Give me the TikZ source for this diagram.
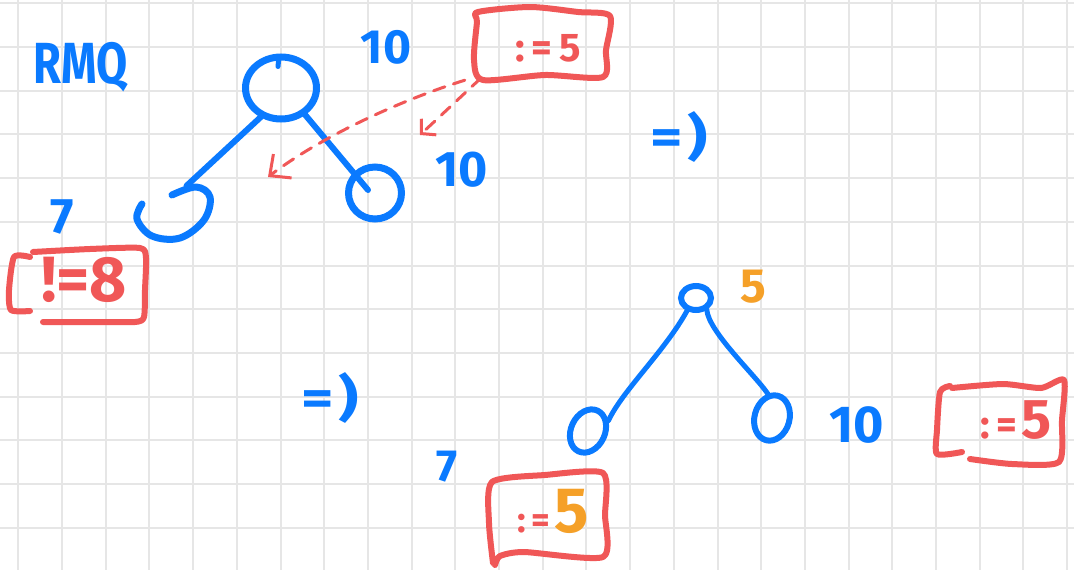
\documentclass[tikz,border=0pt]{standalone}
\usepackage{fontspec}
\setmainfont{Fira Sans}
\usetikzlibrary{arrows.meta,shapes.geometric}
\definecolor{inkblue}{HTML}{0A7AFF}
\definecolor{inkred}{HTML}{F05757}
\definecolor{inkorange}{HTML}{F5A028}
\definecolor{gridgray}{HTML}{E6E6E6}
\newcommand{\fs}[1]{\bfseries\fontsize{#1}{#1}\selectfont}

\begin{document}
\begin{tikzpicture}[x=1pt,y=-1pt,
  gridline/.style={gridgray,line width=2pt},
  tree/.style={inkblue,line width=6pt,line cap=round,line join=round},
  thin tree/.style={inkblue,line width=5pt,line cap=round,line join=round},
  vertex/.style={ellipse,draw=inkblue,line width=7pt,inner sep=0pt},
  small vertex/.style={ellipse,draw=inkblue,line width=6pt,inner sep=0pt},
  anchorbox/.style={draw=none,inner sep=0pt,rectangle},
  lbl/.style={inkblue,inner sep=0pt},
  tag/.style={inkred,line width=6pt,line cap=round,line join=round},
  hint/.style={inkred,line width=3pt,dash pattern=on 12pt off 9pt,line cap=round},
  implies/.style={inkblue,inner sep=0pt,font=\fs{50},xscale=1.25},
]
\useasboundingbox[fill=white] (0,0) rectangle (1074,570);

% squared paper
\foreach \i in {0,...,24} \draw[gridline] ({18.3+43.7*\i},0) -- ++(0,570);
\foreach \j in {0,...,12} \draw[gridline] (0,{3.3+43.7*\j}) -- ++(1074,0);

% title
\node[lbl,font=\fs{58},xscale=0.78] (title) at (81,67) {RMQ};

% ---------- first tree ----------
\node[vertex,minimum width=71pt,minimum height=62pt] (r1) at (281,88) {};
\draw[tree,line width=5pt] (r1.north) ++(-2,3) -- ++(-1,10);
\node[anchorbox,minimum width=70pt,minimum height=52pt] (l1) at (177,212) {};
\draw[tree,line width=7pt] plot[smooth,tension=0.6] coordinates
  {(142,204) (137,219) (152,236) (180,238) (204,220) (210,197) (196,187) (172,195)};
\node[vertex,minimum width=53pt,minimum height=52pt] (c1) at (375,193) {};

\draw[tree] (r1.235) -- (l1.70);
\draw[tree] (r1.312) -- ([xshift=-7pt,yshift=3pt]c1.center);

\node[lbl,font=\fs{48}] (v1) at (386,47) {10};
\node[lbl,font=\fs{50}] (v2) at (462,170) {10};
\node[lbl,font=\fs{50}] (v3) at (62,217) {7};

% tag under the left leaf
\node[anchorbox,minimum width=138pt,minimum height=78pt] (b1) at (78,285) {};
\draw[tag] plot[smooth,tension=0.4] coordinates {(30,257) (14,257) (9,290) (11,310) (30,311)};
\draw[tag] plot[smooth,tension=0.4] coordinates {(33,252) (90,249) (140,248) (146,258) (145,290) (144,317) (135,322) (90,322) (43,322)};
\node[inkred,inner sep=0pt,font=\fs{64}] (t1) at (84,280) {!=8};

% pending update tag at the top
\node[anchorbox,minimum width=136pt,minimum height=70pt] (b2) at (541,45) {};
\draw[tag] plot[smooth cycle,tension=0.45] coordinates
  {(478,12) (530,7) (578,12) (610,16) (606,50) (603,77) (545,75) (483,80) (474,60) (477,22)};
\node[inkred,inner sep=0pt,font=\fs{40}] (t2) at (548,48) {:\hspace{7pt}=\hspace{7pt}5};

% pushing the update down
\coordinate (h1) at (268,177);
\coordinate (h2) at (420,135);
\draw[hint,-{Straight Barb[length=16pt,width=30pt,line width=3pt]}]
  ([xshift=-8pt]b2.south west) .. controls +(-70,22) and +(50,-38) .. (h1);
\draw[hint,-{Straight Barb[length=10pt,width=22pt,line width=3pt]}]
  ([xshift=8pt,yshift=2pt]b2.south west) -- (h2);

% implies
\node[implies] (imp1) at (679,137) {=\hspace{4pt})};

% ---------- second tree ----------
\node[small vertex,minimum width=30pt,minimum height=24pt] (r2) at (696,298) {};
\node[small vertex,minimum width=34pt,minimum height=45pt,rotate=-25] (l2) at (588,431) {};
\node[small vertex,minimum width=35pt,minimum height=46pt,rotate=-15] (c2) at (772,418) {};

\draw[thin tree] (r2.235) .. controls +(-22,40) and +(14,-30) .. (l2.north east);
\draw[thin tree] (r2.312) .. controls +(2,22) and +(-12,-18) .. (c2.115);

\node[inkorange,inner sep=0pt,font=\fs{48}] (v4) at (753,287) {5};
\node[lbl,font=\fs{52}] (v5) at (857,425) {10};
\node[lbl,font=\fs{45}] (v6) at (447,467) {7};

% tag under the left leaf
\node[anchorbox,minimum width=118pt,minimum height=95pt] (b3) at (547,518) {};
\draw[tag] plot[smooth,tension=0.4] coordinates
  {(495,565) (500,556) (524,552) (603,557) (605,515) (603,473) (545,475) (492,482) (489,523) (493,563)};
\node[inner sep=0pt] (t3) at (553,511) {\textcolor{inkred}{\fs{36}:\hspace{6pt}=}\hspace{4pt}\textcolor{inkorange}{\fs{64}5}};

% tag beside the right leaf
\node[anchorbox,minimum width=132pt,minimum height=88pt] (b4) at (1001,422) {};
\draw[tag] plot[smooth,tension=0.4] coordinates
  {(952,388) (1003,384) (1041,388) (1064,380) (1062,420) (1059,462) (1012,464) (970,459)};
\draw[tag] plot[smooth,tension=0.4] coordinates {(950,386) (940,392) (937,430) (937,454) (962,452)};
\node[inner sep=0pt] (t4) at (1016,420) {\textcolor{inkred}{\fs{40}:\hspace{6pt}=\hspace{4pt}\fs{56}5}};

% implies
\node[implies] (imp2) at (330,398) {=\hspace{4pt})};

\end{tikzpicture}
\end{document}
